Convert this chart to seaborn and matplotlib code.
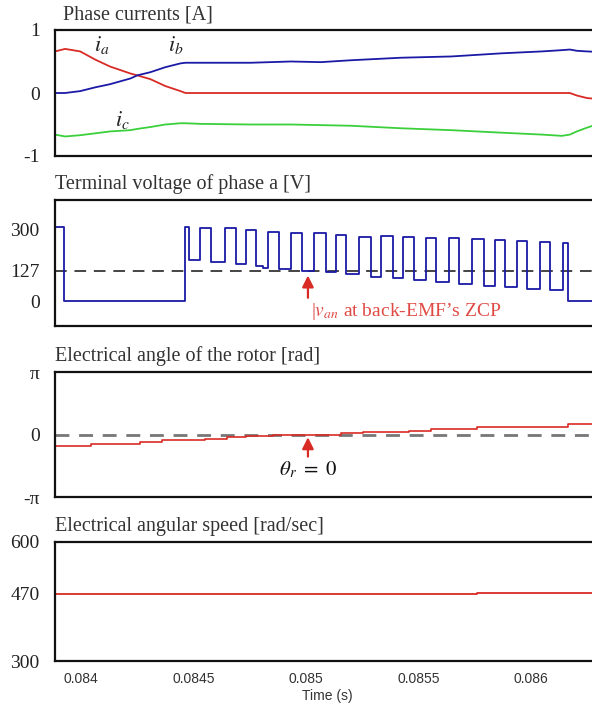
import matplotlib
matplotlib.use("Agg")
import numpy as np
import matplotlib.pyplot as plt
import seaborn as sns

sns.set_theme(style="white")
plt.rcParams["font.family"] = ["Liberation Serif", "DejaVu Serif"]
plt.rcParams["mathtext.fontset"] = "stix"

# phase currents [A]
cur_t = [0.083884, 0.083929, 0.083996, 0.084063, 0.084129, 0.084219, 0.084250, 0.084308,
         0.084375, 0.084442, 0.084464, 0.084531, 0.084754, 0.084933, 0.085067, 0.085201,
         0.085424, 0.085647, 0.085871, 0.086049, 0.086138, 0.086174, 0.086205, 0.086250, 0.086310]
i_a = [0.66, 0.70, 0.66, 0.53, 0.42, 0.31, 0.28, 0.22, 0.11, 0.03, 0.0, 0.0, 0.0, 0.0, 0.0,
       0.0, 0.0, 0.0, 0.0, 0.0, 0.0, 0.0, -0.04, -0.08, -0.10]
i_b = [0.0, 0.0, 0.03, 0.09, 0.14, 0.23, 0.28, 0.33, 0.41, 0.47, 0.48, 0.48, 0.48, 0.50, 0.49,
       0.52, 0.56, 0.58, 0.63, 0.66, 0.68, 0.69, 0.67, 0.66, 0.65]
i_c = [-0.66, -0.69, -0.67, -0.64, -0.61, -0.59, -0.57, -0.54, -0.50, -0.48, -0.48, -0.49, -0.50,
       -0.50, -0.51, -0.52, -0.56, -0.59, -0.63, -0.66, -0.68, -0.66, -0.61, -0.55, -0.48]

# terminal voltage of phase a [V]
volt_t = [0.083884, 0.083924, 0.084464, 0.084482, 0.084531, 0.084576, 0.084638, 0.084688,
          0.084732, 0.084777, 0.084808, 0.084830, 0.084879, 0.084933, 0.084982, 0.085036,
          0.085089, 0.085134, 0.085179, 0.085237, 0.085290, 0.085335, 0.085388, 0.085433,
          0.085482, 0.085536, 0.085580, 0.085638, 0.085683, 0.085737, 0.085790, 0.085839,
          0.085884, 0.085938, 0.085982, 0.086040, 0.086085, 0.086143, 0.086165, 0.086310]
v_a = [308, 0, 308, 170, 306, 162, 303, 154, 296, 148, 138, 289, 135, 285, 127, 283, 121, 275,
       112, 268, 101, 271, 94, 268, 87, 264, 80, 261, 72, 258, 64, 254, 58, 251, 52, 247, 46,
       243, 0, 0]
v_ref = 127

# electrical angle of the rotor [rad]
ang_t = [0.083884, 0.084045, 0.084263, 0.084362, 0.084549, 0.084647, 0.084732, 0.084853,
         0.085156, 0.085254, 0.085460, 0.085558, 0.085763, 0.086165, 0.086310]
theta = [-0.58, -0.48, -0.40, -0.30, -0.21, -0.13, -0.06, 0.0, 0.06, 0.13, 0.19, 0.27, 0.36,
         0.55, 0.55]

# electrical angular speed [rad/sec]
spd_t = [0.083884, 0.085763, 0.086310]
omega = [470, 472, 472]

t_zcp = 0.085009
xticks = [0.084, 0.0845, 0.085, 0.0855, 0.086]
xlabels = ["0.084", "0.0845", "0.085", "0.0855", "0.086"]

red = "#d92b25"
blue = "#1a1aa6"
green = "#3ccf3c"
W, H = 592, 706

fig = plt.figure(figsize=(W / 100, H / 100), dpi=100)


def add_panel(top, bottom):
    return fig.add_axes([55 / W, 1 - bottom / H, 545 / W, (bottom - top) / H])


ax1 = add_panel(30, 156)
ax2 = add_panel(200, 326)
ax3 = add_panel(372, 497)
ax4 = add_panel(542, 661)

sns.lineplot(x=cur_t, y=i_a, ax=ax1, color=red, linewidth=1.3)
sns.lineplot(x=cur_t, y=i_b, ax=ax1, color=blue, linewidth=1.3)
sns.lineplot(x=cur_t, y=i_c, ax=ax1, color=green, linewidth=1.3)
ax1.set_ylim(-1, 1)
ax1.set_yticks([1, 0, -1])
ax1.set_yticklabels(["1", "0", "-1"])
ax1.text(0.084058, 0.66, "$i_a$", fontsize=16, color="#222")
ax1.text(0.084388, 0.66, "$i_b$", fontsize=16, color="#222")
ax1.text(0.084150, -0.52, "$i_c$", fontsize=16, color="#222")

ax2.axhline(v_ref, color="#444444", linewidth=1.4, dashes=(6, 4))
sns.lineplot(x=volt_t, y=v_a, ax=ax2, color=blue, linewidth=1.3, drawstyle="steps-post")
ax2.set_ylim(-104, 421)
ax2.set_yticks([300, 127, 0])
ax2.set_yticklabels(["300", "127", "0"])
ax2.annotate("", xy=(t_zcp, 118), xytext=(t_zcp, 2),
             arrowprops=dict(arrowstyle="-|>", color=red, lw=1.6, mutation_scale=17))
ax2.text(t_zcp + 0.000012, -42, "|$v_{an}$ at back-EMF\u2019s ZCP", color="#e04a45",
         fontsize=14, va="center", ha="left")

ax3.axhline(0, color="#777777", linewidth=2.0, dashes=(5, 3.5))
sns.lineplot(x=ang_t, y=theta, ax=ax3, color=red, linewidth=1.2, drawstyle="steps-post")
ax3.set_ylim(-np.pi, np.pi)
ax3.set_yticks([np.pi, 0, -np.pi])
ax3.set_yticklabels(["\u03c0", "0", "-\u03c0"])
ax3.annotate("", xy=(t_zcp, 0.0), xytext=(t_zcp, -1.25),
             arrowprops=dict(arrowstyle="-|>", color=red, lw=1.6, mutation_scale=17))
ax3.text(t_zcp, -1.8, r"$\theta_r\ =\ 0$", fontsize=15, color="#111", ha="center", va="center")

sns.lineplot(x=spd_t, y=omega, ax=ax4, color=red, linewidth=1.3, drawstyle="steps-post")
ax4.set_ylim(300, 600)
ax4.set_yticks([600, 470, 300])
ax4.set_yticklabels(["600", "470", "300"])

for ax in [ax1, ax2, ax3, ax4]:
    ax.set_xlim(0.083884, 0.086308)
    ax.set_xticks(xticks)
    ax.set_xlabel("")
    ax.set_ylabel("")
    ax.tick_params(axis="y", length=0, labelsize=14, pad=11, colors="#222")
    ax.tick_params(axis="x", length=0)
    for s in ax.spines.values():
        s.set_color("#111")
        s.set_linewidth(1.6)
    if ax is not ax4:
        ax.set_xticklabels([])

ax4.set_xticklabels(xlabels, family=["Liberation Sans", "DejaVu Sans"], fontsize=10, color="#333")
ax4.tick_params(axis="x", pad=8)
ax4.set_xlabel("Time (s)", family=["Liberation Sans", "DejaVu Sans"], fontsize=10,
               color="#333", labelpad=2)

title_kw = dict(fontsize=14.5, color="#333", ha="left", va="center")
fig.text(63 / W, 1 - 15 / H, "Phase currents [A]", **title_kw)
fig.text(55 / W, 1 - 184 / H, "Terminal voltage of phase a [V]", **title_kw)
fig.text(55 / W, 1 - 356 / H, "Electrical angle of the rotor [rad]", **title_kw)
fig.text(55 / W, 1 - 526 / H, "Electrical angular speed [rad/sec]", **title_kw)

fig.savefig("out.png", dpi=100)
